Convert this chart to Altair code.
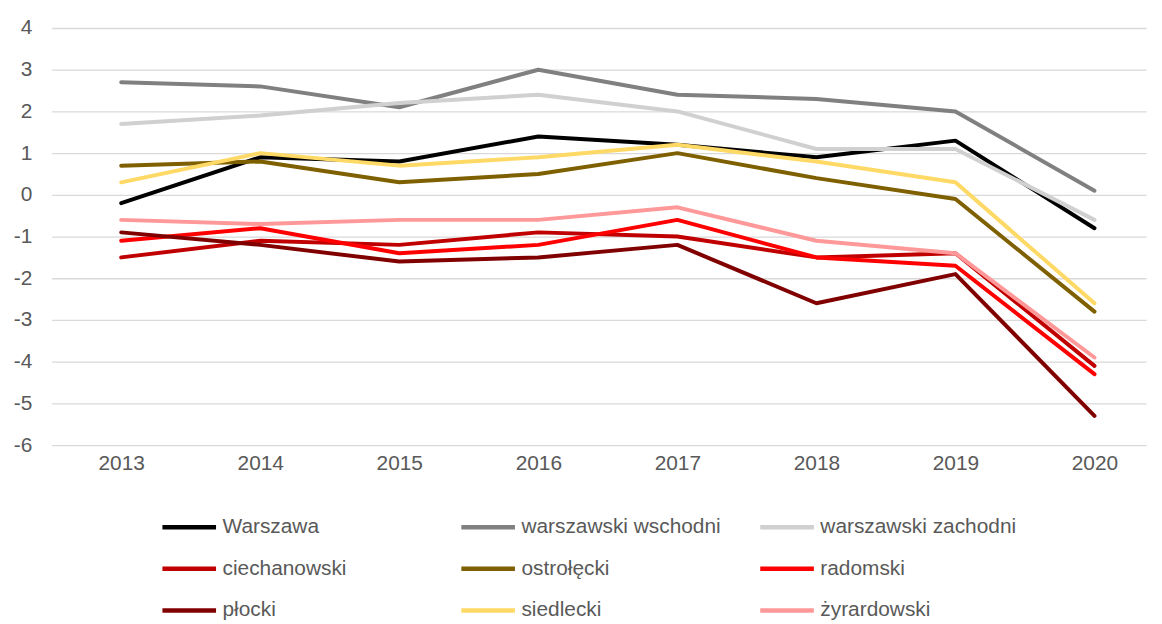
import altair as alt
import pandas as pd

years = [2013, 2014, 2015, 2016, 2017, 2018, 2019, 2020]
series = ["Warszawa", "warszawski wschodni", "warszawski zachodni",
          "ciechanowski", "ostrołęcki", "radomski",
          "płocki", "siedlecki", "żyrardowski"]
colors = ["#000000", "#808080", "#D0D0D0",
          "#C00000", "#7F6000", "#FF0000",
          "#800000", "#FFD966", "#FF9999"]

warszawa = [-0.2, 0.9, 0.8, 1.4, 1.2, 0.9, 1.3, -0.8]
warszawski_wschodni = [2.7, 2.6, 2.1, 3.0, 2.4, 2.3, 2.0, 0.1]
warszawski_zachodni = [1.7, 1.9, 2.2, 2.4, 2.0, 1.1, 1.1, -0.6]
ciechanowski = [-1.5, -1.1, -1.2, -0.9, -1.0, -1.5, -1.4, -4.1]
ostrolecki = [0.7, 0.8, 0.3, 0.5, 1.0, 0.4, -0.1, -2.8]
radomski = [-1.1, -0.8, -1.4, -1.2, -0.6, -1.5, -1.7, -4.3]
plocki = [-0.9, -1.2, -1.6, -1.5, -1.2, -2.6, -1.9, -5.3]
siedlecki = [0.3, 1.0, 0.7, 0.9, 1.2, 0.8, 0.3, -2.6]
zyrardowski = [-0.6, -0.7, -0.6, -0.6, -0.3, -1.1, -1.4, -3.9]

values = [warszawa, warszawski_wschodni, warszawski_zachodni,
          ciechanowski, ostrolecki, radomski,
          plocki, siedlecki, zyrardowski]

rows = []
for name, vals in zip(series, values):
    for y, v in zip(years, vals):
        rows.append({"rok": y, "wartosc": v, "seria": name})
df = pd.DataFrame(rows)

FONT = "Liberation Sans"
TXT = "#595959"

chart = alt.Chart(df).mark_line(
    strokeWidth=4, strokeCap="round", strokeJoin="round"
).encode(
    x=alt.X("rok:Q",
            scale=alt.Scale(domain=[2012.5, 2020.371], nice=False, zero=False),
            axis=alt.Axis(values=years, format="d", title=None, grid=False,
                          domain=False, ticks=False, labelFontSize=21,
                          labelColor=TXT, labelFont=FONT, labelPadding=8)),
    y=alt.Y("wartosc:Q",
            scale=alt.Scale(domain=[-6, 4], nice=False),
            axis=alt.Axis(values=list(range(-6, 5)), title=None, grid=True,
                          gridColor="#D9D9D9", gridWidth=1.3,
                          labelExpr="'' + datum.value",
                          domain=False, ticks=False, labelFontSize=21,
                          labelColor=TXT, labelFont=FONT, labelPadding=20)),
    color=alt.Color("seria:N",
                    scale=alt.Scale(domain=series, range=colors),
                    legend=alt.Legend(
                        title=None, orient="none", legendX=109, legendY=473,
                        direction="horizontal",
                        columns=3, gridAlign="all", columnPadding=30,
                        rowPadding=2, symbolType="stroke",
                        symbolSize=2916, symbolStrokeWidth=4.5,
                        labelFontSize=21, labelFont=FONT, labelColor=TXT,
                        labelOffset=4, labelLimit=400)),
    detail="seria:N",
).properties(
    width=1102, height=420,
    autosize=alt.AutoSizeParams(type="none"),
    padding={"left": 44, "top": 18, "right": 8, "bottom": 176},
).configure_view(stroke=None)

chart.save("out.html", embed_options={"renderer": "svg", "actions": False})
